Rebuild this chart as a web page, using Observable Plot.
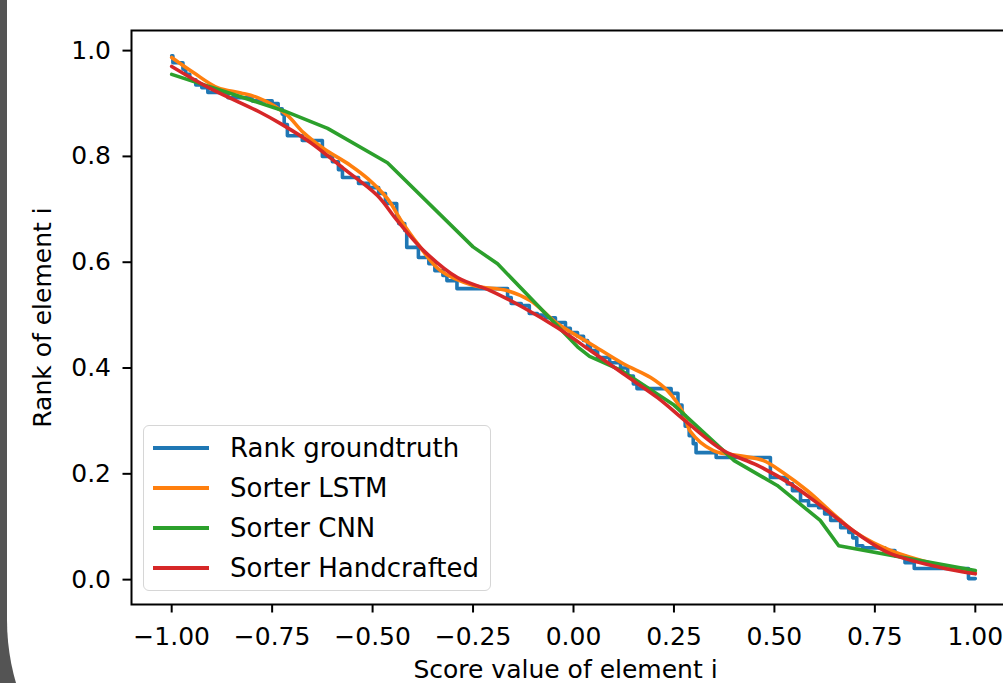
<!DOCTYPE html>
<html>
<head>
<meta charset="utf-8">
<script src="https://cdn.jsdelivr.net/npm/d3@7"></script>
<script src="https://cdn.jsdelivr.net/npm/@observablehq/plot@0.6"></script>
<style>
html, body { margin:0; padding:0; width:1003px; height:683px; overflow:hidden; background:#545454; font-family:"DejaVu Sans", sans-serif; }
#panel { position:absolute; left:7px; top:0; width:1200px; height:845px; background:#fff; border-bottom-left-radius:225px; }
#chart { position:absolute; left:0; top:0; width:1040px; height:683px; }
#chart svg { max-width:none !important; }
#legend { position:absolute; left:143px; top:425px; width:346px; height:164px; border:1.5px solid #d6d6d6; border-radius:6px; background:rgba(255,255,255,0.8); }
.row { position:absolute; left:0; width:340px; height:40px; }
.sw { position:absolute; left:9px; top:18px; width:56px; height:3.6px; }
.lb { position:absolute; left:86px; top:0; height:40px; line-height:40px; font-size:26px; color:#000; white-space:nowrap; }
</style>
</head>
<body>
<div id="panel"></div>
<div id="chart"></div>
<div id="legend"></div>
<script>
// Series names and colours
const seriesNames = ["Rank groundtruth", "Sorter LSTM", "Sorter CNN", "Sorter Handcrafted"];
const seriesColors = ["#1f77b4", "#ff7f0e", "#2ca02c", "#d62728"];

// Axis ticks
const xTicks = [-1, -0.75, -0.5, -0.25, 0, 0.25, 0.5, 0.75, 1];
const yTicks = [0, 0.2, 0.4, 0.6, 0.8, 1.0];

// Rank groundtruth (step levels: x where the level starts, level)
const gtX = [-1.0,-0.997,-0.972,-0.965,-0.955,-0.94,-0.925,-0.91,-0.86,-0.80,-0.75,-0.735,-0.725,-0.72,-0.712,-0.675,-0.625,-0.60,-0.585,-0.575,-0.535,-0.51,-0.485,-0.468,-0.44,-0.435,-0.42,-0.415,-0.386,-0.36,-0.345,-0.325,-0.315,-0.29,-0.164,-0.155,-0.13,-0.11,-0.09,-0.07,-0.045,-0.02,-0.008,0.01,0.025,0.035,0.042,0.06,0.09,0.117,0.135,0.149,0.158,0.243,0.26,0.27,0.278,0.288,0.298,0.305,0.355,0.49,0.532,0.545,0.565,0.585,0.61,0.625,0.64,0.665,0.685,0.695,0.705,0.72,0.775,0.8,0.825,0.848,0.983,1.0];
const gtY = [0.99,0.977,0.965,0.955,0.945,0.935,0.93,0.921,0.911,0.905,0.9,0.89,0.88,0.86,0.839,0.83,0.80,0.79,0.775,0.76,0.749,0.741,0.73,0.711,0.685,0.673,0.66,0.628,0.609,0.597,0.584,0.575,0.565,0.55,0.533,0.522,0.518,0.503,0.5,0.495,0.486,0.475,0.467,0.46,0.452,0.44,0.433,0.42,0.41,0.40,0.385,0.37,0.361,0.352,0.33,0.31,0.29,0.272,0.257,0.24,0.231,0.193,0.181,0.168,0.149,0.14,0.136,0.124,0.112,0.098,0.089,0.079,0.064,0.06,0.055,0.045,0.032,0.021,0.002,0.002];

// Sorter LSTM
const lstmX = [-1.0,-0.945,-0.886,-0.828,-0.786,-0.746,-0.711,-0.672,-0.622,-0.555,-0.512,-0.463,-0.43,-0.388,-0.331,-0.249,-0.164,-0.107,-0.04,0.042,0.124,0.192,0.234,0.274,0.291,0.348,0.415,0.473,0.522,0.582,0.647,0.706,0.789,0.895,1.0];
const lstmY = [0.987,0.958,0.93,0.92,0.911,0.896,0.877,0.845,0.815,0.783,0.758,0.72,0.68,0.635,0.584,0.556,0.546,0.527,0.484,0.446,0.408,0.382,0.357,0.314,0.28,0.244,0.234,0.225,0.202,0.168,0.124,0.087,0.055,0.030,0.013];

// Sorter CNN
const cnnX = [-1.0,-0.72,-0.612,-0.463,-0.25,-0.189,0.01,0.04,0.12,0.25,0.4,0.507,0.614,0.66,1.0];
const cnnY = [0.955,0.886,0.853,0.788,0.629,0.597,0.44,0.422,0.395,0.33,0.225,0.178,0.112,0.064,0.017];

// Sorter Handcrafted
const handX = [-1.0,-0.903,-0.779,-0.729,-0.654,-0.572,-0.488,-0.44,-0.373,-0.289,-0.206,-0.124,-0.04,0.042,0.124,0.209,0.291,0.373,0.458,0.54,0.622,0.706,0.789,0.913,1.0];
const handY = [0.97,0.928,0.883,0.862,0.826,0.777,0.726,0.68,0.622,0.571,0.546,0.514,0.476,0.433,0.389,0.344,0.292,0.244,0.216,0.181,0.136,0.087,0.049,0.023,0.011];

const toRows = (xs, ys) => xs.map((x, i) => ({x, y: ys[i]}));
const lw = 3.6;

const chart = Plot.plot({
  width: 1040,
  height: 683,
  marginLeft: 131,
  marginRight: 25,
  marginTop: 30,
  marginBottom: 79,
  style: {background: "transparent", fontFamily: "DejaVu Sans, sans-serif", fontSize: "25px", color: "#000", maxWidth: "none", overflow: "visible"},
  x: {domain: [-1.1, 1.1], axis: null},
  y: {domain: [-0.047, 1.038], axis: null},
  marks: [
    Plot.line(toRows(gtX, gtY), {x: "x", y: "y", stroke: seriesColors[0], strokeWidth: lw, curve: "step-after"}),
    Plot.line(toRows(lstmX, lstmY), {x: "x", y: "y", stroke: seriesColors[1], strokeWidth: lw, curve: "catmull-rom"}),
    Plot.line(toRows(cnnX, cnnY), {x: "x", y: "y", stroke: seriesColors[2], strokeWidth: lw, curve: "linear"}),
    Plot.line(toRows(handX, handY), {x: "x", y: "y", stroke: seriesColors[3], strokeWidth: lw, curve: "catmull-rom"}),
    Plot.frame({stroke: "#000", strokeWidth: 2}),
    Plot.axisX(xTicks, {tickFormat: d3.format(".2f"), tickSize: 8.5, tickPadding: 14, strokeWidth: 2, label: null, fontSize: 25}),
    Plot.axisY(yTicks, {tickFormat: d3.format(".1f"), tickSize: 8.5, tickPadding: 12, strokeWidth: 2, label: null, fontSize: 25}),
    Plot.text(["Score value of element i"], {frameAnchor: "bottom", textAnchor: "middle", lineAnchor: "middle", dx: -8, dy: 65, fontSize: 25, fill: "#000"}),
    Plot.text(["Rank of element i"], {frameAnchor: "left", textAnchor: "middle", lineAnchor: "middle", dx: -89, rotate: -90, fontSize: 25, fill: "#000"})
  ]
});
document.getElementById("chart").appendChild(chart);

// Legend
const legend = document.getElementById("legend");
seriesNames.forEach((name, i) => {
  const row = document.createElement("div");
  row.className = "row";
  row.style.top = (2 + i * 40) + "px";
  const sw = document.createElement("div");
  sw.className = "sw";
  sw.style.background = seriesColors[i];
  const lb = document.createElement("div");
  lb.className = "lb";
  lb.textContent = name;
  row.appendChild(sw);
  row.appendChild(lb);
  legend.appendChild(row);
});
</script>
</body>
</html>
